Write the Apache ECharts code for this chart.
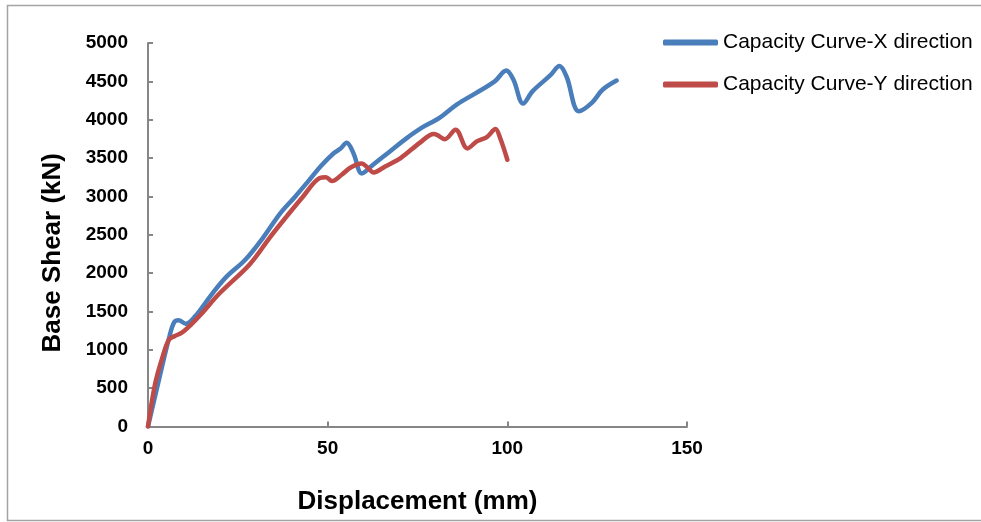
<!DOCTYPE html>
<html>
<head>
<meta charset="utf-8">
<script src="https://cdn.jsdelivr.net/npm/echarts@6/dist/echarts.min.js"></script>
<style>
  html, body { margin: 0; padding: 0; background: #fff; }
  #chart { width: 981px; height: 522px; }
</style>
</head>
<body>
<div id="chart"></div>
<script>
// Pushover capacity curves: displacement (mm) vs base shear (kN)
const xDispX = [0, 3, 6, 7.3, 8.5, 10.5, 13, 18, 22, 27, 32, 36.8, 41, 45, 48, 51.6, 53.5, 55.3, 57.2, 59.5, 62.3, 67.4, 72, 76, 81, 86, 91, 96.5, 99.7, 101.7, 104.4, 107, 112, 114.5, 116.5, 119.9, 123.5, 126.5, 130.4];
const xShear = [0, 600, 1180, 1360, 1385, 1340, 1430, 1740, 1960, 2170, 2460, 2780, 3000, 3220, 3390, 3560, 3620, 3700, 3560, 3300, 3400, 3590, 3760, 3890, 4020, 4200, 4340, 4500, 4640, 4520, 4210, 4370, 4580, 4700, 4560, 4110, 4220, 4390, 4510];

const yDisp = [0, 2, 4, 5.8, 7.5, 9.3, 12, 14.5, 20, 28.4, 34, 38.6, 43, 47.8, 49.5, 51.2, 53.9, 56.5, 59.5, 61, 62.8, 66, 70.3, 75.8, 79.5, 80.5, 82.6, 85.6, 88.9, 91.5, 94.3, 96.7, 98, 100];
const yShear = [0, 560, 900, 1130, 1180, 1220, 1330, 1450, 1740, 2120, 2470, 2740, 2990, 3240, 3250, 3200, 3282, 3380, 3430, 3380, 3312, 3390, 3500, 3705, 3815, 3800, 3745, 3870, 3625, 3717, 3774, 3878, 3761, 3478];

const seriesNames = ['Capacity Curve-X direction', 'Capacity Curve-Y direction'];
const xTicks = { min: 0, max: 150, step: 50 };
const yTicks = { min: 0, max: 5000, step: 500 };

const pairs = (xs, ys) => xs.map((x, i) => [x, ys[i]]);
const font = 'Liberation Sans, Arial, sans-serif';
const axisGray = '#868686';

const chart = echarts.init(document.getElementById('chart'), null, { renderer: 'canvas' });
chart.setOption({
  backgroundColor: '#fff',
  animation: false,
  graphic: [{
    type: 'rect',
    shape: { x: 7.5, y: 5.5, width: 985, height: 515 },
    style: { fill: 'none', stroke: '#a3a3a3', lineWidth: 1.5 },
    z: -1
  }],
  grid: { left: 148, top: 43, right: 294, bottom: 95.5, containLabel: false },
  legend: {
    orient: 'vertical',
    left: 658,
    top: 27,
    itemGap: 21,
    itemWidth: 55,
    itemHeight: 6,
    icon: 'roundRect',
    textStyle: { fontFamily: font, fontSize: 21, color: '#000' },
    data: seriesNames
  },
  xAxis: {
    type: 'value',
    min: xTicks.min, max: xTicks.max, interval: xTicks.step,
    name: 'Displacement (mm)',
    nameLocation: 'middle',
    nameGap: 62,
    nameTextStyle: { fontFamily: font, fontSize: 26, fontWeight: 'bold', color: '#000', verticalAlign: 'top' },
    axisLine: { show: true, lineStyle: { color: axisGray, width: 2 } },
    axisTick: { show: true, inside: true, length: 5, lineStyle: { color: axisGray, width: 2 } },
    axisLabel: { fontFamily: font, fontSize: 19, fontWeight: 'bold', color: '#000', margin: 13 },
    splitLine: { show: false }
  },
  yAxis: {
    type: 'value',
    min: yTicks.min, max: yTicks.max, interval: yTicks.step,
    name: 'Base Shear (kN)',
    nameLocation: 'middle',
    nameRotate: 90,
    nameGap: 82,
    nameTextStyle: { fontFamily: font, fontSize: 26, fontWeight: 'bold', color: '#000', padding: [0, 36, 0, 0] },
    axisLine: { show: true, lineStyle: { color: axisGray, width: 2 } },
    axisTick: { show: true, inside: true, length: 5, lineStyle: { color: axisGray, width: 2 } },
    axisLabel: { fontFamily: font, fontSize: 19, fontWeight: 'bold', color: '#000', margin: 20, formatter: v => String(v) },
    splitLine: { show: false }
  },
  series: [
    {
      name: seriesNames[0],
      type: 'line',
      data: pairs(xDispX, xShear),
      smooth: 0.35,
      symbol: 'none',
      color: '#4A7EBB',
      lineStyle: { color: '#4A7EBB', width: 4.5, cap: 'round', join: 'round' }
    },
    {
      name: seriesNames[1],
      type: 'line',
      data: pairs(yDisp, yShear),
      smooth: 0.35,
      symbol: 'none',
      color: '#BE4B48',
      lineStyle: { color: '#BE4B48', width: 4.5, cap: 'round', join: 'round' }
    }
  ]
});
</script>
</body>
</html>
